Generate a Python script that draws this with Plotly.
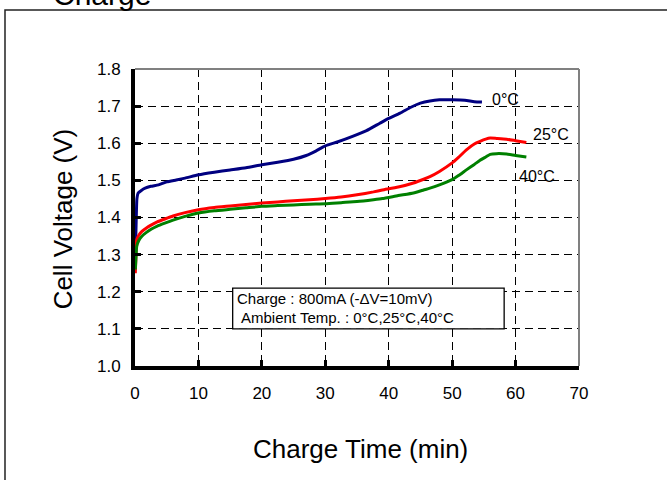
import plotly.graph_objects as go

# ---- data ----
time_0c = [0.1, 0.2, 0.3, 0.5, 1.0, 1.6, 2.5, 3.7, 5.0, 6.5, 7.9, 10.0, 12.5, 15.0, 17.5,
           20.0, 22.5, 25.0, 27.0, 28.5, 30.0, 32.0, 34.4, 36.5, 38.6, 40.0, 41.8, 43.5,
           45.0, 46.5, 48.0, 50.0, 52.0, 53.5, 54.7]
volt_0c = [1.33, 1.40, 1.45, 1.466, 1.473, 1.479, 1.484, 1.488, 1.496, 1.501, 1.506, 1.515,
           1.522, 1.528, 1.534, 1.542, 1.549, 1.557, 1.567, 1.579, 1.593, 1.604, 1.619,
           1.634, 1.654, 1.667, 1.681, 1.697, 1.708, 1.714, 1.717, 1.717, 1.716, 1.712, 1.711]

time_warm = [0.05, 0.15, 0.27, 0.6, 1.05, 1.8, 2.6, 3.5, 4.7, 6.0, 7.9, 10.0, 12.5, 15.0,
             17.5, 20.0, 22.5, 25.0, 27.5, 30.0, 32.5, 35.0, 37.6, 39.0, 41.5, 43.9, 45.5,
             46.5, 48.0, 50.0, 51.0, 52.3, 53.5, 54.4, 55.3, 56.0, 57.0, 58.6, 60.0, 61.7]
volt_25c = [1.25, 1.30, 1.34, 1.352, 1.362, 1.372, 1.380, 1.388, 1.396, 1.404, 1.413, 1.421,
            1.427, 1.431, 1.435, 1.439, 1.442, 1.445, 1.448, 1.451, 1.455, 1.461, 1.469,
            1.474, 1.482, 1.493, 1.503, 1.510, 1.524, 1.547, 1.562, 1.583, 1.598, 1.605,
            1.611, 1.614, 1.613, 1.611, 1.607, 1.602]
volt_40c = [1.26, 1.29, 1.322, 1.338, 1.349, 1.360, 1.369, 1.377, 1.385, 1.393, 1.403, 1.412,
            1.418, 1.422, 1.426, 1.430, 1.432, 1.434, 1.436, 1.437, 1.440, 1.443, 1.448,
            1.451, 1.459, 1.466, 1.474, 1.479, 1.488, 1.502, 1.513, 1.529, 1.543, 1.554,
            1.563, 1.570, 1.572, 1.571, 1.567, 1.563]

series_names = ["0°C", "25°C", "40°C"]
series_colors = ["#000080", "#ff0000", "#008000"]

FONT = "Liberation Sans, Arial, sans-serif"

fig = go.Figure()
for t, v, name, col in [(time_0c, volt_0c, series_names[0], series_colors[0]),
                        (time_warm, volt_25c, series_names[1], series_colors[1]),
                        (time_warm, volt_40c, series_names[2], series_colors[2])]:
    fig.add_trace(go.Scatter(x=t, y=v, mode="lines", name=name,
                             line=dict(color=col, width=3, shape="spline", smoothing=0.5),
                             showlegend=False))

axis_common = dict(
    showgrid=True, gridcolor="black", gridwidth=1, griddash="8px,5px",
    showline=True, linecolor="black", linewidth=4,
    ticks="inside", ticklen=6, tickwidth=3, tickcolor="black",
    tickfont=dict(family=FONT, size=17, color="black"),
    zeroline=False,
)
fig.update_xaxes(range=[0, 70], dtick=10, tick0=0, ticklabelstandoff=9, **axis_common)
fig.update_yaxes(range=[1.0, 1.8], dtick=0.1, tick0=1.0, tickformat=".1f",
                 ticklabelstandoff=7, **axis_common)

shapes = [
    # outer frame (extends past the page like the reference)
    dict(type="rect", xref="paper", yref="paper", x0=-0.2928, x1=1.6, y0=-0.6, y1=1.1987,
         line=dict(color="#222222", width=1.5), layer="below"),
    # grey top and right borders of the plot area
    dict(type="line", xref="paper", yref="paper", x0=0, x1=1, y0=1, y1=1,
         line=dict(color="#808080", width=2)),
    dict(type="line", xref="paper", yref="paper", x0=1, x1=1, y0=0, y1=1,
         line=dict(color="#808080", width=2)),
    # note box
    dict(type="rect", xref="x", yref="y", x0=15.4, x1=58.2, y0=1.10, y1=1.21,
         line=dict(color="black", width=1.3), fillcolor="white", layer="above"),
]

annotations = [
    dict(text="Charge", xref="paper", yref="paper", x=(51 - 135) / 444, y=1.2500,
         xanchor="left", yanchor="middle", showarrow=False,
         font=dict(family=FONT, size=30, color="black")),
    dict(text="Cell Voltage (V)", xref="paper", yref="paper", x=-0.1622, y=0.497,
         textangle=-90, xanchor="center", yanchor="middle", showarrow=False,
         font=dict(family=FONT, size=26, color="black")),
    dict(text="Charge Time (min)", xref="paper", yref="paper", x=0.508, y=-0.2795,
         xanchor="center", yanchor="middle", showarrow=False,
         font=dict(family=FONT, size=26, color="black")),
    dict(text="Charge : 800mA (-ΔV=10mV)", xref="x", yref="y", x=15.77, y=1.1814,
         xanchor="left", yanchor="middle", showarrow=False,
         font=dict(family=FONT, size=15, color="black")),
    dict(text="Ambient Temp. : 0°C,25°C,40°C", xref="x", yref="y", x=16.4, y=1.131,
         xanchor="left", yanchor="middle", showarrow=False,
         font=dict(family=FONT, size=15, color="black")),
    dict(text=series_names[0], xref="x", yref="y", x=55.97, y=1.719,
         xanchor="left", yanchor="middle", showarrow=False,
         font=dict(family=FONT, size=16, color="black")),
    dict(text=series_names[1], xref="x", yref="y", x=62.4, y=1.6226,
         xanchor="left", yanchor="middle", showarrow=False,
         font=dict(family=FONT, size=16, color="black")),
    dict(text=series_names[2], xref="x", yref="y", x=60.2, y=1.5094,
         xanchor="left", yanchor="middle", showarrow=False,
         font=dict(family=FONT, size=16, color="black")),
]

fig.update_layout(
    width=667, height=480,
    margin=dict(l=135, r=88, t=69, b=114),
    paper_bgcolor="white", plot_bgcolor="white",
    font=dict(family=FONT, color="black"),
    shapes=shapes, annotations=annotations,
    showlegend=False,
)

fig.write_html("out.html",
               config={"displayModeBar": False},
               post_script="document.body.style.margin='0px';document.body.style.overflow='hidden';")
